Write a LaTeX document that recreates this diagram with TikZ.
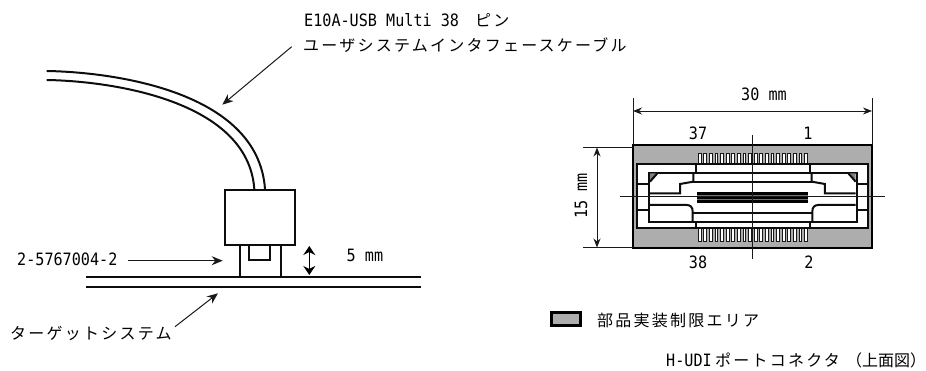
\documentclass[tikz,border=0pt]{standalone}
\usepackage{fontspec}
\usetikzlibrary{arrows.meta}
\newfontfamily\jp{Noto Sans CJK JP}
\newfontfamily\jpw[LetterSpace=14]{Noto Sans CJK JP}
\newfontfamily\lat[FakeStretch=.89]{DejaVu Sans Mono}
\tikzset{
  wlbl/.style={inner sep=0pt,anchor=west,font=\fontsize{16pt}{16pt}\selectfont\jpw},
  num/.style={inner sep=0pt,anchor=center,font=\fontsize{17pt}{17pt}\selectfont\lat},
  ln/.style={line width=2pt,black!95},
  thin arrow/.style={line width=1pt,black!90,-{Stealth[length=11pt,width=9pt]}},
  dim/.style={line width=.9pt,black!90,{Stealth[length=9pt,width=7pt]}-{Stealth[length=9pt,width=7pt]}},
  ext/.style={line width=.9pt,black!90},
  zone/.style={line width=2.2pt,black,fill=black!32},
  tooth/.style={line width=.9pt,black!90,fill=white}
}
\begin{document}
\begin{tikzpicture}[x=1pt,y=-1pt]
\useasboundingbox (0,0) rectangle (926,370);
% texts
\node[num,anchor=west] (t1a) at (304,20) {E10A-USB Multi 38};
\node[wlbl] (t1b) at (475,20) {ピン};
\node[wlbl] (t2) at (303,45) {ユーザシステムインタフェースケーブル};
\node[num,anchor=west] (t3) at (17,259) {2-5767004-2};
\node[num,anchor=west] (t4) at (346.5,255) {5 mm};
\node[wlbl] (t5) at (10,333) {ターゲットシステム};
\node[wlbl] (t6) at (597,320) {部品実装制限エリア};
\node[num,anchor=west] (t7a) at (666,360) {H-UDI};
\node[wlbl] (t7) at (715,360) {ポートコネクタ};
\node[wlbl,font=\fontsize{16pt}{16pt}\selectfont\jp] (t7b) at (846,360) {（上面図）};
\node[num] (t8) at (764,94) {30 mm};
\node[num] (t9) at (698,133) {37};
\node[num] (t10) at (808,133) {1};
\node[num] (t11) at (698,262) {38};
\node[num] (t12) at (809,262) {2};
\node[num,rotate=90] (t13) at (581,196) {15 mm};
% cable
\draw[ln] (46.7,71) .. controls (110,72) and (258,90) .. (265,189);
\draw[ln] (46.7,80) .. controls (110,81) and (248,100) .. (254.3,189);
% connector
\draw[ln] (225,190) rectangle (295,245);
\draw[ln] (240,245) -- (240,276.7) (280.7,245) -- (280.7,276.7);
\draw[ln] (249.3,245) -- (249.3,260) -- (270,260) -- (270,245);
\draw[ln] (86,276.7) -- (420.7,276.7);
\draw[ln] (86,286.7) -- (420.7,286.7);
% arrows
\coordinate (a1) at (291.7,46.7); \coordinate (a2) at (222.3,104.7);
\draw[thin arrow] (a1) -- (a2);
\coordinate (b1) at (128,260.7); \coordinate (b2) at (222.7,260.7);
\draw[thin arrow] (b1) -- (b2);
\coordinate (c1) at (175,326.7); \coordinate (c2) at (218,293.3);
\draw[thin arrow] (c1) -- (c2);
\coordinate (d1) at (309.3,246); \coordinate (d2) at (309.3,275);
\draw[line width=1.4pt,black,{Stealth[length=9pt,width=12pt]}-{Stealth[length=9pt,width=12pt]}] (d1) -- (d2);
% legend
\draw[line width=2.6pt,black,fill=black!32] (551.5,312.5) rectangle (580.5,325.5);
% port
\begin{scope}[xshift=620pt,yshift=-130pt,x=.3333pt,y=-.3333pt]
\draw[zone] (38,45) rectangle (757,355);
\foreach \i in {0,...,19}{
  \draw[tooth] ({235+\i*16.8},70) rectangle ({243+\i*16.8},102);
  \draw[tooth] ({235+\i*16.8},295) rectangle ({243+\i*16.8},335);
}
\fill[white] (50,102) rectangle (745,295);
\draw[ln] (50,102) rectangle (745,295);
\draw[ln] (87,128) rectangle (710,275);
\draw[ln] (228,102) -- (228,128) (570,102) -- (570,128);
\draw[ln] (228,275) -- (228,295) (570,275) -- (570,295);
\draw[ln] (50,163) -- (87,163) (50,241) -- (87,241) (710,163) -- (745,163) (710,241) -- (745,241);
\draw[ln] (220,128) -- (220,155) -- (180,162) -- (180,190) -- (90,190);
\draw[ln] (575,128) -- (575,155) -- (615,162) -- (615,190) -- (707,190);
\draw[ln] (220,155) -- (575,155);
\draw[ln] (90,225) -- (200,225) .. controls (212,225) and (218,232) .. (218,245) -- (218,275);
\draw[ln] (707,225) -- (595,225) .. controls (583,225) and (577,232) .. (577,245) -- (577,275);
\draw[ln] (218,248) -- (577,248);
\fill[black] (232,186) rectangle (565,220);
\draw[black!55,line width=.4pt] (232,197) -- (565,197) (232,209) -- (565,209);
\fill[black!50] (90,130) -- (112,130) -- (90,155) -- cycle;
\fill[black!50] (707,130) -- (685,130) -- (707,155) -- cycle;
\draw[ln] (90,155) -- (112,130) (707,155) -- (685,130);
\draw[ext,line width=1pt] (397,15) -- (397,388);
\draw[ext,line width=1pt] (0,200) -- (795,200);
\end{scope}
% dims
\coordinate (e1) at (633,111); \coordinate (e2) at (872,111);
\draw[dim] (e1) -- (e2);
\draw[ext] (633,98) -- (633,145) (872,98) -- (872,145);
\coordinate (f1) at (597,147.5); \coordinate (f2) at (597,247.5);
\draw[dim] (f1) -- (f2);
\draw[ext] (583,147.5) -- (633,147.5) (583,247.5) -- (633,247.5);
\end{tikzpicture}
\end{document}
